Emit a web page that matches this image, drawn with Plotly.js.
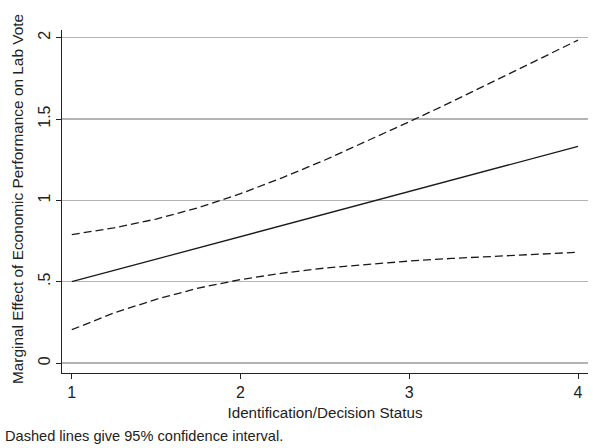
<!DOCTYPE html>
<html>
<head>
<meta charset="utf-8">
<script src="https://cdn.plot.ly/plotly-3.0.1.min.js"></script>
<style>html,body{margin:0;padding:0;background:#fff;}#chart{width:593px;height:448px;}</style>
</head>
<body>
<div id="chart"></div>
<script>
// Identification/Decision Status values
var idStatus = [1, 1.25, 1.5, 1.75, 2, 2.25, 2.5, 2.75, 3, 3.25, 3.5, 3.75, 4];
// Marginal effect (solid line)
var effect = [0.500, 0.569, 0.639, 0.708, 0.777, 0.847, 0.916, 0.985, 1.055, 1.124, 1.193, 1.263, 1.332];
// 95% CI upper bound (dashed)
var upper = [0.790, 0.831, 0.885, 0.955, 1.041, 1.140, 1.248, 1.363, 1.483, 1.605, 1.730, 1.857, 1.985];
// 95% CI lower bound (dashed)
var lower = [0.205, 0.308, 0.392, 0.461, 0.513, 0.553, 0.584, 0.607, 0.627, 0.643, 0.656, 0.669, 0.681];
var xTicks = [1, 2, 3, 4];
var xTickText = ["1", "2", "3", "4"];
var yTicks = [0, 0.5, 1, 1.5, 2];
var yTickText = ["0", ".5", "1", "1.5", "2"];

var font = "Liberation Sans, Arial, Helvetica, sans-serif";
var lineCol = "#1a1a1a";

var traces = [
  {x: idStatus, y: upper, mode: "lines", line: {color: lineCol, width: 1.3, dash: "8px,4px"}, hoverinfo: "skip"},
  {x: idStatus, y: effect, mode: "lines", line: {color: lineCol, width: 1.3}, hoverinfo: "skip"},
  {x: idStatus, y: lower, mode: "lines", line: {color: lineCol, width: 1.3, dash: "8px,4px"}, hoverinfo: "skip"}
];

var layout = {
  width: 593, height: 448,
  margin: {l: 62, r: 5, t: 30, b: 74.5, pad: 0},
  paper_bgcolor: "#ffffff", plot_bgcolor: "#ffffff",
  showlegend: false,
  font: {family: font, size: 15, color: "#222"},
  xaxis: {
    range: [0.942, 4.059],
    tickvals: xTicks, ticktext: xTickText,
    ticks: "outside", ticklen: 5, tickwidth: 1, tickcolor: "#222",
    showgrid: false, zeroline: false,
    showline: true, linecolor: "#222", linewidth: 1,
    tickfont: {family: font, size: 16, color: "#222"},
    title: {text: "Identification/Decision Status", font: {family: font, size: 15.2, color: "#222"}, standoff: 7}
  },
  yaxis: {
    range: [-0.061, 2.047],
    tickvals: yTicks, ticktext: yTickText,
    ticks: "outside", ticklen: 5, tickwidth: 1, tickcolor: "#222",
    tickangle: -90,
    showgrid: true, gridcolor: "#b4b4b4", gridwidth: 1.3,
    zeroline: false,
    showline: true, linecolor: "#222", linewidth: 1,
    tickfont: {family: font, size: 16, color: "#222"}
  },
  annotations: [{
    text: "Marginal Effect of Economic Performance on Lab Vote",
    xref: "paper", yref: "paper",
    x: (17 - 62) / 526, y: 0.507,
    xanchor: "center", yanchor: "middle",
    textangle: -90,
    showarrow: false,
    font: {family: font, size: 15.4, color: "#222"}
  }, {
    text: "Dashed lines give 95% confidence interval.",
    xref: "paper", yref: "paper",
    x: (3 - 62) / 526, y: (373.5 - 437) / 343.5,
    xanchor: "left", yanchor: "middle",
    showarrow: false,
    font: {family: font, size: 14.6, color: "#222"}
  }]
};

Plotly.newPlot("chart", traces, layout, {displayModeBar: false, staticPlot: true});
</script>
</body>
</html>
